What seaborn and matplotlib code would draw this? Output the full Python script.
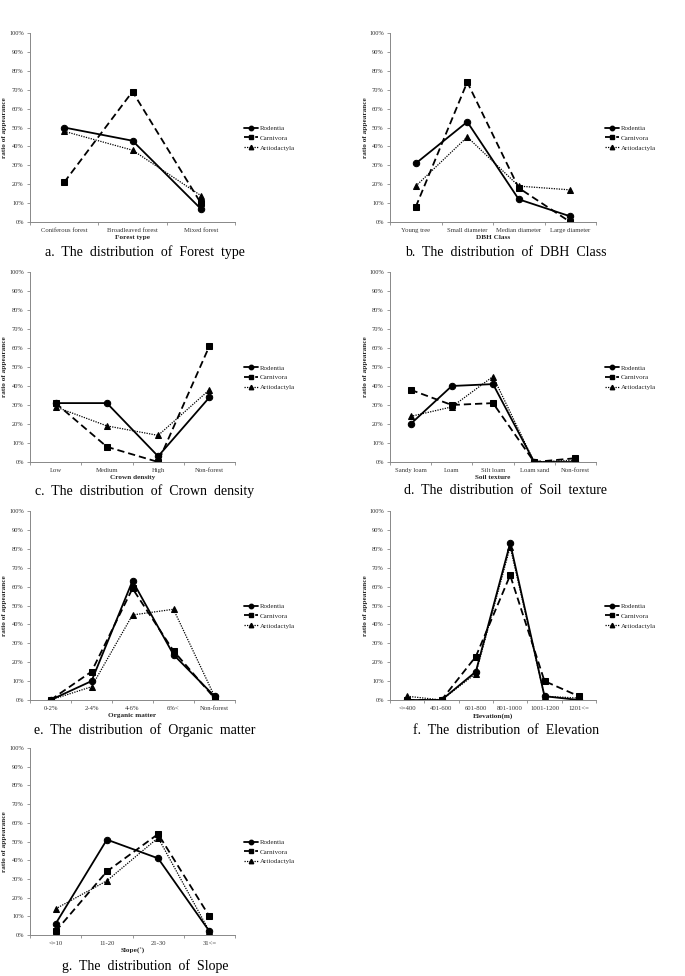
import matplotlib
matplotlib.use('Agg')
import matplotlib.pyplot as plt
import seaborn as sns
import pandas as pd
from matplotlib.ticker import PercentFormatter, FixedLocator
from matplotlib.lines import Line2D

species = ['Rodentia', 'Carnivora', 'Artiodactyla']

# a. forest type
forest_cats = ['Coniferous forest', 'Broadleaved forest', 'Mixed forest']
forest_rod = [50, 43, 7]
forest_car = [21, 69, 10]
forest_art = [48, 38, 14]

# b. DBH class
dbh_cats = ['Young tree', 'Small diameter', 'Median diameter', 'Large diameter']
dbh_rod = [31, 53, 12, 3]
dbh_car = [8, 74, 18, 0]
dbh_art = [19, 45, 19, 17]

# c. crown density
crown_cats = ['Low', 'Medium', 'High', 'Non-forest']
crown_rod = [31, 31, 3, 34]
crown_car = [31, 8, 0, 61]
crown_art = [29, 19, 14, 38]

# d. soil texture
soil_cats = ['Sandy loam', 'Loam', 'Silt loam', 'Loam sand', 'Non-forest']
soil_rod = [20, 40, 41, 0, 0]
soil_car = [38, 30, 31, 0, 2]
soil_art = [24, 29, 45, 0, 1]

# e. organic matter
org_cats = ['0-2%', '2-4%', '4-6%', '6%<', 'Non-forest']
org_rod = [0, 10, 63, 24, 2]
org_car = [0, 15, 59, 26, 1]
org_art = [0, 7, 45, 48, 2]

# f. elevation
elev_cats = ['<=400', '401-600', '601-800', '801-1000', '1001-1200', '1201<=']
elev_rod = [0, 0, 15, 83, 2, 0]
elev_car = [0, 0, 23, 66, 10, 2]
elev_art = [2, 0, 14, 81, 2, 1]

# g. slope
slope_cats = ['<=10', '11-20', '21-30', '31<=']
slope_rod = [6, 51, 41, 2]
slope_car = [2, 34, 54, 10]
slope_art = [14, 29, 52, 2]

panels = [
    ('a', 'Forest type', forest_cats, [forest_rod, forest_car, forest_art]),
    ('b', 'DBH Class', dbh_cats, [dbh_rod, dbh_car, dbh_art]),
    ('c', 'Crown density', crown_cats, [crown_rod, crown_car, crown_art]),
    ('d', 'Soil texture', soil_cats, [soil_rod, soil_car, soil_art]),
    ('e', 'Organic matter', org_cats, [org_rod, org_car, org_art]),
    ('f', 'Elevation(m)', elev_cats, [elev_rod, elev_car, elev_art]),
    ('g', 'Slope(˚)', slope_cats, [slope_rod, slope_car, slope_art]),
]
captions = {'f': 'Elevation', 'g': 'Slope'}

sns.set_theme(style='ticks')
plt.rcParams['font.family'] = ['Liberation Serif', 'DejaVu Serif']

W, H = 685, 976
fig = plt.figure(figsize=(W / 100, H / 100), dpi=100)

# pixel boxes of the plot areas
col_x = [(30, 235), (390, 596)]
row_y = [(33, 222), (272, 462), (511, 700), (748, 935)]
cap_x = [145, 506]
cap_y = [252, 491, 730, 966]

styles = {
    'Rodentia': dict(marker='o', linestyle='-', linewidth=1.3, markersize=4.6),
    'Carnivora': dict(marker='s', linestyle=(0, (4, 2.2)), linewidth=1.3, markersize=4.6),
    'Artiodactyla': dict(marker='^', linestyle=(0, (1, 1)), linewidth=0.9, markersize=4.6),
}

for i, (letter, xlabel, cats, series) in enumerate(panels):
    r, c = divmod(i, 2)
    x0, x1 = col_x[c]
    y0, y1 = row_y[r]
    ax = fig.add_axes([x0 / W, 1 - y1 / H, (x1 - x0) / W, (y1 - y0) / H])
    df = pd.DataFrame({'pos': list(range(len(cats))) * 3,
                       'value': [v / 100 for s in series for v in s],
                       'species': [sp for sp in species for _ in cats]})
    for sp in species:
        sub = df[df['species'] == sp]
        sns.lineplot(data=sub, x='pos', y='value', ax=ax, color='black',
                     markeredgecolor='black', **styles[sp])
    ax.set_xlim(-0.5, len(cats) - 0.5)
    ax.set_ylim(0, 1)
    ax.set_xticks(range(len(cats)))
    ax.set_xticklabels(cats, fontsize=4.8, color='#333333')
    ax.xaxis.set_minor_locator(FixedLocator([k - 0.5 for k in range(len(cats) + 1)]))
    ax.tick_params(axis='x', which='major', length=0, pad=4)
    ax.tick_params(axis='x', which='minor', length=2.5, color='#888888', width=0.6)
    ax.set_yticks([k / 10 for k in range(11)])
    ax.yaxis.set_major_formatter(PercentFormatter(1.0, decimals=0))
    ax.tick_params(axis='y', labelsize=4.6, length=2.5, color='#888888', width=0.6,
                   labelcolor='#333333', pad=2)
    sns.despine(ax=ax)
    for s in ('left', 'bottom'):
        ax.spines[s].set_color('#888888')
        ax.spines[s].set_linewidth(0.7)
    ax.set_xlabel(xlabel, fontsize=5.2, fontweight='bold', labelpad=2)
    ax.set_ylabel('ratio of appearance', fontsize=5.2, fontweight='bold')
    ax.yaxis.set_label_coords(((7 if c == 0 else 368) - x0) / (x1 - x0), 0.5)

    handles = [Line2D([], [], color='black', **styles[sp]) for sp in species]
    for h in handles:
        h.set_markersize(3.2)
    ax.legend(handles, species, loc='center left', bbox_to_anchor=(1.03, 0.445),
              frameon=False, fontsize=5.0, handlelength=2.0, handletextpad=0.3,
              labelspacing=0.55, borderaxespad=0)

    name = captions.get(letter, xlabel)
    cap = f'{letter}.  The  distribution  of  ' + '  '.join(name.split(' '))
    fig.text(cap_x[c] / W, 1 - cap_y[r] / H, cap, ha='center', va='center',
             fontsize=10, color='black')

fig.savefig('out.png', dpi=100)
